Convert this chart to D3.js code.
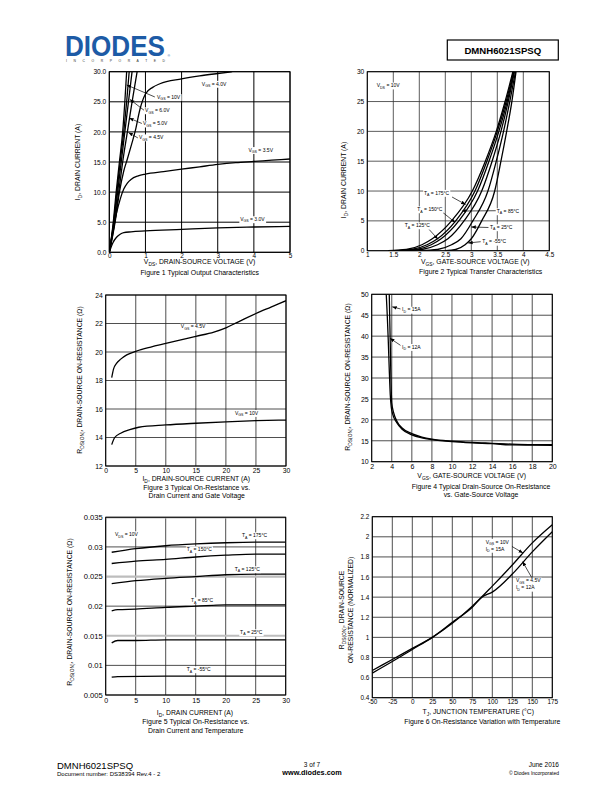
<!DOCTYPE html>
<html>
<head>
<meta charset="utf-8">
<script src="https://cdn.jsdelivr.net/npm/d3@7"></script>
<style>
body { margin: 0; background: #fff; }
text { font-family: "Liberation Sans", Arial, sans-serif; fill: #000; }
</style>
</head>
<body>
<div id="page"></div>
<script>
// ---- Figure 1: output characteristics, [VDS, ID] ----
var f1XTicks = [0, 1, 2, 3, 4, 5];
var f1YTicks = [0, 5, 10, 15, 20, 25, 30];
var f1Vgs10 = [[0,0],[0.11,5],[0.19,10],[0.28,15],[0.37,20],[0.43,25],[0.48,30]];
var f1Vgs6  = [[0,0],[0.12,5],[0.21,10],[0.3,15],[0.4,20],[0.48,25],[0.55,30]];
var f1Vgs5  = [[0,0],[0.13,5],[0.23,10],[0.33,15],[0.43,20],[0.53,25],[0.63,30]];
var f1Vgs45 = [[0,0],[0.15,5],[0.26,10],[0.37,15],[0.5,20],[0.63,25],[0.77,30]];
var f1Vgs4  = [[0,0],[0.16,5],[0.28,10],[0.4,13.5],[0.5,15.5],[0.62,18],[0.72,20.2],[0.85,23.8],[1.0,26.3],[1.2,27.4],[1.4,28.0],[2,28.8],[2.5,29.3],[3,29.7],[3.4,30]];
var f1Vgs35 = [[0,0],[0.1,3.5],[0.2,6.5],[0.3,8.8],[0.4,10.5],[0.5,11.5],[0.6,12.1],[0.8,12.7],[1,13],[1.5,13.4],[2,13.8],[2.5,14.2],[3,14.6],[3.5,14.9],[4,15.1],[4.5,15.3],[5,15.5]];
var f1Vgs3  = [[0,0],[0.1,1.6],[0.2,2.5],[0.3,3.0],[0.4,3.25],[0.6,3.4],[1,3.55],[2,3.8],[3,4.05],[4,4.2],[5,4.3]];

// ---- Figure 2: transfer characteristics, [VGS, ID] ----
var f2XTicks = [1, 1.5, 2, 2.5, 3, 3.5, 4, 4.5];
var f2YTicks = [0, 5, 10, 15, 20, 25, 30];
var f2T175 = [[1.4,0],[1.75,0.2],[2.05,1],[2.25,2],[2.62,5],[3.02,10],[3.27,15],[3.48,20],[3.65,25],[3.8,30]];
var f2T150 = [[1.5,0],[1.85,0.2],[2.15,1],[2.35,2],[2.7,5],[3.07,10],[3.3,15],[3.5,20],[3.67,25],[3.81,30]];
var f2T125 = [[1.6,0],[1.95,0.2],[2.23,1],[2.42,2],[2.76,5],[3.12,10],[3.34,15],[3.53,20],[3.69,25],[3.82,30]];
var f2T85  = [[1.75,0],[2.05,0.2],[2.35,1],[2.55,2],[2.86,5],[3.2,10],[3.4,15],[3.57,20],[3.71,25],[3.83,30]];
var f2T25  = [[2.0,0],[2.35,0.2],[2.62,1],[2.8,2],[3.03,5],[3.32,10],[3.48,15],[3.62,20],[3.74,25],[3.85,30]];
var f2Tm55 = [[2.5,0],[2.7,0.2],[2.88,1],[3.0,2],[3.2,5],[3.45,10],[3.57,15],[3.68,20],[3.78,25],[3.86,30]];

// ---- Figure 3: RDS(ON) vs ID, [ID, mOhm] ----
var f3XTicks = [0, 5, 10, 15, 20, 25, 30];
var f3YTicks = [12, 14, 16, 18, 20, 22, 24];
var f3Vgs45 = [[1,18.2],[1.3,18.8],[1.8,19.2],[2.5,19.5],[3.5,19.8],[5,20.05],[7.5,20.35],[10,20.6],[12.5,20.85],[15,21.1],[18,21.4],[20,21.7],[22,22.1],[25,22.7],[27.5,23.15],[30,23.6]];
var f3Vgs10 = [[1,13.5],[1.5,14.0],[2.5,14.3],[4,14.55],[5.5,14.72],[10,14.88],[15,15.0],[20,15.1],[25,15.18],[30,15.22]];

// ---- Figure 4: RDS(ON) vs VGS, [VGS, mOhm] ----
var f4XTicks = [2, 4, 6, 8, 10, 12, 14, 16, 18, 20];
var f4YTicks = [10, 15, 20, 25, 30, 35, 40, 45, 50];
var f4Id15 = [[3.75,50],[3.8,44],[3.85,38],[3.9,32],[3.95,27],[4.0,24],[4.2,21.6],[4.5,19.7],[5,18.1],[6,16.7],[7,15.9],[8,15.4],[10,14.9],[12,14.6],[14,14.4],[16,14.2],[18,14.1],[20,14.1]];
var f4Id12 = [[3.45,50],[3.55,45],[3.65,39],[3.75,32],[3.85,26],[3.95,23],[4.1,21.3],[4.5,19.3],[5,17.8],[6,16.4],[7,15.7],[8,15.3],[10,14.8],[12,14.5],[14,14.3],[16,14.0],[18,13.95],[20,13.9]];

// ---- Figure 5: RDS(ON) vs ID and temperature, [ID, Ohm] ----
var f5XTicks = [0, 5, 10, 15, 20, 25, 30];
var f5YTicks = [0.005, 0.01, 0.015, 0.02, 0.025, 0.03, 0.035];
var f5T175 = [[1,0.0291],[5,0.0297],[10,0.0302],[15,0.0305],[20,0.0307],[25,0.0308],[30,0.0308]];
var f5T150 = [[1,0.0272],[5,0.0276],[10,0.0279],[15,0.0283],[20,0.0286],[25,0.0288],[30,0.0288]];
var f5T125 = [[1,0.0238],[5,0.0243],[10,0.0247],[15,0.0250],[20,0.0253],[25,0.0254],[30,0.0254]];
var f5T85  = [[1,0.0192],[2,0.0194],[5,0.0195],[10,0.0198],[15,0.0200],[20,0.0202],[30,0.0202]];
var f5T25  = [[1,0.0138],[2,0.0142],[5,0.0142],[10,0.0143],[20,0.0143],[30,0.0143]];
var f5Tm55 = [[1,0.0080],[2,0.0081],[10,0.0082],[30,0.0082]];

// ---- Figure 6: normalized RDS(ON) vs TJ, [TJ, ratio] ----
var f6XTicks = [-50, -25, 0, 25, 50, 75, 100, 125, 150, 175];
var f6YTicks = [0.4, 0.6, 0.8, 1, 1.2, 1.4, 1.6, 1.8, 2, 2.2];
var f6Vgs10 = [[-50,0.67],[-25,0.78],[0,0.89],[25,1.0],[50,1.14],[75,1.31],[100,1.51],[125,1.72],[150,1.94],[175,2.12]];
var f6Vgs45 = [[-50,0.645],[-25,0.76],[0,0.88],[25,1.0],[50,1.15],[75,1.3],[87,1.4],[100,1.45],[125,1.63],[150,1.85],[175,2.05]];

var svg = d3.select('#page').append('svg')
	.attr('width', 612)
	.attr('height', 792);

svg.append('defs').append('marker')
	.attr('id', 'ah')
	.attr('viewBox', '0 0 10 10')
	.attr('refX', 10).attr('refY', 5)
	.attr('markerUnits', 'userSpaceOnUse')
	.attr('markerWidth', 4.5).attr('markerHeight', 4.5)
	.attr('orient', 'auto')
	.append('path').attr('d', 'M0,1L10,5L0,9z').attr('fill', '#000');

// text with _{sub} parts
function rich(t, s) {
	var fs = +t.attr('font-size'), down = 0;
	s.split(/_\{([^}]*)\}/).forEach(function(p, i) {
		var ts = t.append('tspan').text(p);
		if (i % 2 == 1) {
			ts.attr('font-size', fs * 0.72).attr('dy', fs * 0.3);
			down = fs * 0.3;
		} else if (down) {
			ts.attr('dy', -down);
			down = 0;
		}
	});
	return t;
}

var clipId = 0;

function panel(p) {
	var x = d3.scaleLinear().domain(p.xd).range([p.x0, p.x1]);
	var y = d3.scaleLinear().domain(p.yd).range([p.y1, p.y0]);
	var g = svg.append('g');
	var gray = p.grayY || [];

	// grid
	g.append('g').selectAll('line').data(p.xt).enter().append('line')
		.attr('x1', function(d){ return x(d); })
		.attr('x2', function(d){ return x(d); })
		.attr('y1', p.y0).attr('y2', p.y1)
		.attr('stroke', p.gc).attr('stroke-width', p.gw);
	g.append('g').selectAll('line').data(p.yt).enter().append('line')
		.attr('y1', function(d){ return y(d); })
		.attr('y2', function(d){ return y(d); })
		.attr('x1', p.x0).attr('x2', p.x1)
		.attr('stroke', function(d){ return gray.indexOf(d) >= 0 ? '#bdbdbd' : p.gc; })
		.attr('stroke-width', function(d){ return gray.indexOf(d) >= 0 ? 2.2 : p.gw; });

	// axes (labels only)
	var xa = g.append('g')
		.attr('transform', 'translate(0,' + p.y1 + ')')
		.call(d3.axisBottom(x).tickValues(p.xt).tickSize(0).tickPadding(p.xpad).tickFormat(p.xf));
	xa.attr('font-size', p.xfs).attr('font-family', null);
	xa.select('.domain').remove();

	var ya = g.append('g')
		.attr('transform', 'translate(' + p.x0 + ',0)')
		.call(d3.axisLeft(y).tickValues(p.yt).tickSize(0).tickPadding(p.ypad).tickFormat(p.yf));
	ya.attr('font-size', p.yfs).attr('font-family', null);
	ya.select('.domain').remove();

	// curves
	var cid = 'clip' + (clipId++);
	g.append('clipPath').attr('id', cid).append('rect')
		.attr('x', p.x0).attr('y', p.y0)
		.attr('width', p.x1 - p.x0).attr('height', p.y1 - p.y0);
	var line = d3.line()
		.x(function(d){ return x(d[0]); })
		.y(function(d){ return y(d[1]); })
		.curve(d3.curveMonotoneX);
	g.append('g').attr('clip-path', 'url(#' + cid + ')')
		.selectAll('path').data(p.series).enter().append('path')
		.attr('d', line)
		.attr('fill', 'none')
		.attr('stroke', '#000')
		.attr('stroke-width', 1.3)
		.attr('stroke-linejoin', 'round');

	// annotations
	(p.notes || []).forEach(function(n) {
		if (n.arrow) {
			g.append('line')
				.attr('x1', x(n.arrow[0][0])).attr('y1', y(n.arrow[0][1]))
				.attr('x2', x(n.arrow[1][0])).attr('y2', y(n.arrow[1][1]))
				.attr('stroke', '#000').attr('stroke-width', 0.7)
				.attr('marker-end', 'url(#ah)');
		}
		n.t.forEach(function(s, i) {
			var t = g.append('text')
				.attr('x', x(n.at[0]))
				.attr('y', y(n.at[1]) + i * 7)
				.attr('font-size', 5);
			rich(t, s);
			var b = t.node().getBBox();
			g.insert('rect', function(){ return t.node(); })
				.attr('x', b.x - 0.8).attr('y', b.y + 0.3)
				.attr('width', b.width + 1.6).attr('height', b.height - 0.6)
				.attr('fill', '#fff');
		});
	});

	// frame
	g.append('rect')
		.attr('x', p.x0).attr('y', p.y0)
		.attr('width', p.x1 - p.x0).attr('height', p.y1 - p.y0)
		.attr('fill', 'none').attr('stroke', '#000').attr('stroke-width', 1);

	// titles
	rich(g.append('text')
		.attr('x', p.xlx).attr('y', p.xly)
		.attr('text-anchor', 'middle').attr('font-size', 6.8), p.xlab);
	p.cap.forEach(function(c, i) {
		g.append('text')
			.attr('x', p.capx).attr('y', p.capy + i * 8.5)
			.attr('text-anchor', 'middle').attr('font-size', 6.9)
			.text(c);
	});
	p.ylab.forEach(function(s, i) {
		rich(g.append('text')
			.attr('transform', 'translate(' + p.ylx[i] + ',' + p.yly + ') rotate(-90)')
			.attr('text-anchor', 'middle').attr('font-size', 6.8), s);
	});
}

var num = function(d){ return String(d); };
var rdsLabel = 'R_{DS(ON)}, DRAIN-SOURCE ON-RESISTANCE (\u03A9)';

panel({
	x0: 109.3, x1: 290, y0: 71.7, y1: 252.3,
	xd: [0, 5], yd: [0, 30], xt: f1XTicks, yt: f1YTicks,
	xf: num, yf: d3.format('.1f'), xfs: 6.4, yfs: 6.6, xpad: 1.2, ypad: 3,
	gc: '#000', gw: 1,
	series: [f1Vgs10, f1Vgs6, f1Vgs5, f1Vgs45, f1Vgs4, f1Vgs35, f1Vgs3],
	notes: [
		{t: ['V_{GS} = 10V'], at: [1.32, 25.5], arrow: [[1.26, 25.8], [0.48, 27.8]]},
		{t: ['V_{GS} = 6.0V'], at: [0.99, 23.3], arrow: [[0.96, 23.6], [0.57, 25.4]]},
		{t: ['V_{GS} = 5.0V'], at: [0.93, 21.1], arrow: [[0.9, 21.4], [0.55, 22.3]]},
		{t: ['V_{GS} = 4.5V'], at: [0.82, 18.8], arrow: [[0.79, 19.0], [0.53, 19.9]]},
		{t: ['V_{GS} = 4.0V'], at: [2.56, 27.7]},
		{t: ['V_{GS} = 3.5V'], at: [3.85, 16.7]},
		{t: ['V_{GS} = 3.0V'], at: [3.62, 5.2]}
	],
	xlab: 'V_{DS}, DRAIN-SOURCE VOLTAGE (V)', xlx: 199.6, xly: 264.3,
	cap: ['Figure 1 Typical Output Characteristics'], capx: 199.7, capy: 274.8,
	ylab: ['I_{D}, DRAIN CURRENT (A)'], ylx: [80], yly: 162
});

panel({
	x0: 367.3, x1: 549.3, y0: 71.7, y1: 250.7,
	xd: [1, 4.5], yd: [0, 30], xt: f2XTicks, yt: f2YTicks,
	xf: num, yf: num, xfs: 6.4, yfs: 6.6, xpad: 1.5, ypad: 3,
	gc: '#333', gw: 0.8,
	series: [f2T175, f2T150, f2T125, f2T85, f2T25, f2Tm55],
	notes: [
		{t: ['V_{DS} = 10V'], at: [1.18, 27.4]},
		{t: ['T_{A} = 175\u00B0C'], at: [2.09, 9.4], arrow: [[2.63, 9.0], [2.89, 7.74]]},
		{t: ['T_{A} = 150\u00B0C'], at: [1.96, 6.65], arrow: [[2.44, 6.5], [2.69, 4.73]]},
		{t: ['T_{A} = 125\u00B0C'], at: [1.72, 3.97], arrow: [[2.19, 3.55], [2.36, 1.91]]},
		{t: ['T_{A} = 85\u00B0C'], at: [3.49, 6.32], arrow: [[3.47, 6.7], [2.82, 6.65]]},
		{t: ['T_{A} = 25\u00B0C'], at: [3.36, 3.64], arrow: [[3.33, 3.89], [3.0, 3.97]]},
		{t: ['T_{A} = -55\u00B0C'], at: [3.21, 1.21], arrow: [[3.18, 1.51], [2.94, 1.29]]}
	],
	xlab: 'V_{GS}, GATE-SOURCE VOLTAGE (V)', xlx: 475.3, xly: 264,
	cap: ['Figure 2 Typical Transfer Characteristics'], capx: 480.7, capy: 273.8,
	ylab: ['I_{D}, DRAIN CURRENT (A)'], ylx: [346], yly: 180
});

panel({
	x0: 105.7, x1: 286, y0: 295, y1: 466,
	xd: [0, 30], yd: [12, 24], xt: f3XTicks, yt: f3YTicks,
	xf: num, yf: num, xfs: 6.8, yfs: 6.8, xpad: 2, ypad: 3,
	gc: '#222', gw: 0.8,
	series: [f3Vgs45, f3Vgs10],
	notes: [
		{t: ['V_{GS} = 4.5V'], at: [12.5, 21.65]},
		{t: ['V_{GS} = 10V'], at: [21.5, 15.6]}
	],
	xlab: 'I_{D}, DRAIN-SOURCE CURRENT (A)', xlx: 196.3, xly: 481.3,
	cap: ['Figure 3 Typical On-Resistance vs.', 'Drain Current and Gate Voltage'], capx: 196.7, capy: 489.5,
	ylab: [rdsLabel], ylx: [82], yly: 380
});

panel({
	x0: 371.7, x1: 552.3, y0: 294.3, y1: 461.7,
	xd: [2, 20], yd: [10, 50], xt: f4XTicks, yt: f4YTicks,
	xf: num, yf: num, xfs: 7, yfs: 7, xpad: 2, ypad: 3,
	gc: '#222', gw: 0.8,
	series: [f4Id15, f4Id12],
	notes: [
		{t: ['I_{D} = 15A'], at: [5.02, 45.9], arrow: [[4.87, 46.5], [4.05, 47.0]]},
		{t: ['I_{D} = 12A'], at: [5.02, 37.0], arrow: [[4.87, 37.8], [3.82, 39.5]]}
	],
	xlab: 'V_{GS}, GATE-SOURCE VOLTAGE (V)', xlx: 471.7, xly: 478.3,
	cap: ['Figure 4 Typical Drain-Source On-Resistance', 'vs. Gate-Source Voltage'], capx: 481, capy: 488.8,
	ylab: [rdsLabel], ylx: [350], yly: 377
});

panel({
	x0: 105.7, x1: 285.7, y0: 517.3, y1: 695,
	xd: [0, 30], yd: [0.005, 0.035], xt: f5XTicks, yt: f5YTicks,
	xf: num, yf: num, xfs: 7, yfs: 7.6, xpad: 3, ypad: 3,
	gc: '#222', gw: 0.8, grayY: [0.015, 0.025, 0.035],
	series: [f5T175, f5T150, f5T125, f5T85, f5T25, f5Tm55],
	notes: [
		{t: ['V_{DS} = 10V'], at: [1.55, 0.03184]},
		{t: ['T_{A} = 175\u00B0C'], at: [22.7, 0.03167]},
		{t: ['T_{A} = 150\u00B0C'], at: [13.5, 0.02931]},
		{t: ['T_{A} = 125\u00B0C'], at: [21.5, 0.02594]},
		{t: ['T_{A} = 85\u00B0C'], at: [14.2, 0.0207]},
		{t: ['T_{A} = 25\u00B0C'], at: [22.4, 0.0153]},
		{t: ['T_{A} = -55\u00B0C'], at: [13.5, 0.00905]}
	],
	xlab: 'I_{D}, DRAIN CURRENT (A)', xlx: 195, xly: 714.5,
	cap: ['Figure 5 Typical On-Resistance vs.', 'Drain Current and Temperature'], capx: 195.7, capy: 724,
	ylab: [rdsLabel], ylx: [72], yly: 612
});

panel({
	x0: 372.3, x1: 552.3, y0: 516.7, y1: 697.7,
	xd: [-50, 175], yd: [0.4, 2.2], xt: f6XTicks, yt: f6YTicks,
	xf: num, yf: num, xfs: 6.4, yfs: 6.4, xpad: 2, ypad: 3,
	gc: '#222', gw: 0.8,
	series: [f6Vgs10, f6Vgs45],
	notes: [
		{t: ['V_{GS} = 10V', 'I_{D} = 15A'], at: [91.75, 1.933], arrow: [[124.6, 1.904], [138.4, 1.839]]},
		{t: ['V_{GS} = 4.5V', 'I_{D} = 12A'], at: [129.6, 1.546], arrow: [[150.3, 1.58], [137.8, 1.754]]}
	],
	xlab: 'T_{J}, JUNCTION TEMPERATURE (\u00B0C)', xlx: 478.3, xly: 714.3,
	cap: ['Figure 6 On-Resistance Variation with Temperature'], capx: 482.3, capy: 724.3,
	ylab: ['R_{DS(ON)}, DRAIN-SOURCE', 'ON-RESISTANCE (NORMALIZED)'], ylx: [343.5, 353], yly: 610
});

// ---- header ----
svg.append('text')
	.attr('transform', 'translate(65,56) scale(1,1.16)')
	.attr('font-size', 26).attr('font-weight', 'bold')
	.attr('textLength', 100).attr('lengthAdjust', 'spacingAndGlyphs')
	.style('fill', '#1d5ba6')
	.text('DIODES');
svg.append('text')
	.attr('x', 167.5).attr('y', 56.5).attr('font-size', 3.5)
	.style('fill', '#1d5ba6').text('\u00AE');
svg.append('text')
	.attr('x', 66).attr('y', 62.2).attr('font-size', 3.4)
	.attr('textLength', 99).attr('lengthAdjust', 'spacing')
	.style('fill', '#333').text('I N C O R P O R A T E D');

svg.append('rect')
	.attr('x', 447.3).attr('y', 40).attr('width', 111).attr('height', 20)
	.attr('fill', 'none').attr('stroke', '#000').attr('stroke-width', 1.2);
svg.append('text')
	.attr('x', 502.8).attr('y', 53.8).attr('text-anchor', 'middle')
	.attr('font-size', 9.6).attr('font-weight', 'bold')
	.text('DMNH6021SPSQ');

// ---- footer ----
svg.append('text').attr('x', 57).attr('y', 768.5).attr('font-size', 9.5).text('DMNH6021SPSQ');
svg.append('text').attr('x', 57).attr('y', 775.8).attr('font-size', 6).text('Document number: DS38394 Rev.4 - 2');
svg.append('text').attr('x', 312).attr('y', 766.5).attr('text-anchor', 'middle').attr('font-size', 6.5).text('3 of 7');
svg.append('text').attr('x', 312).attr('y', 774.8).attr('text-anchor', 'middle').attr('font-size', 7.3).attr('font-weight', 'bold').text('www.diodes.com');
svg.append('text').attr('x', 559).attr('y', 767).attr('text-anchor', 'end').attr('font-size', 6.5).text('June 2016');
svg.append('text').attr('x', 559).attr('y', 775).attr('text-anchor', 'end').attr('font-size', 5).text('\u00A9 Diodes Incorporated');
</script>
</body>
</html>
